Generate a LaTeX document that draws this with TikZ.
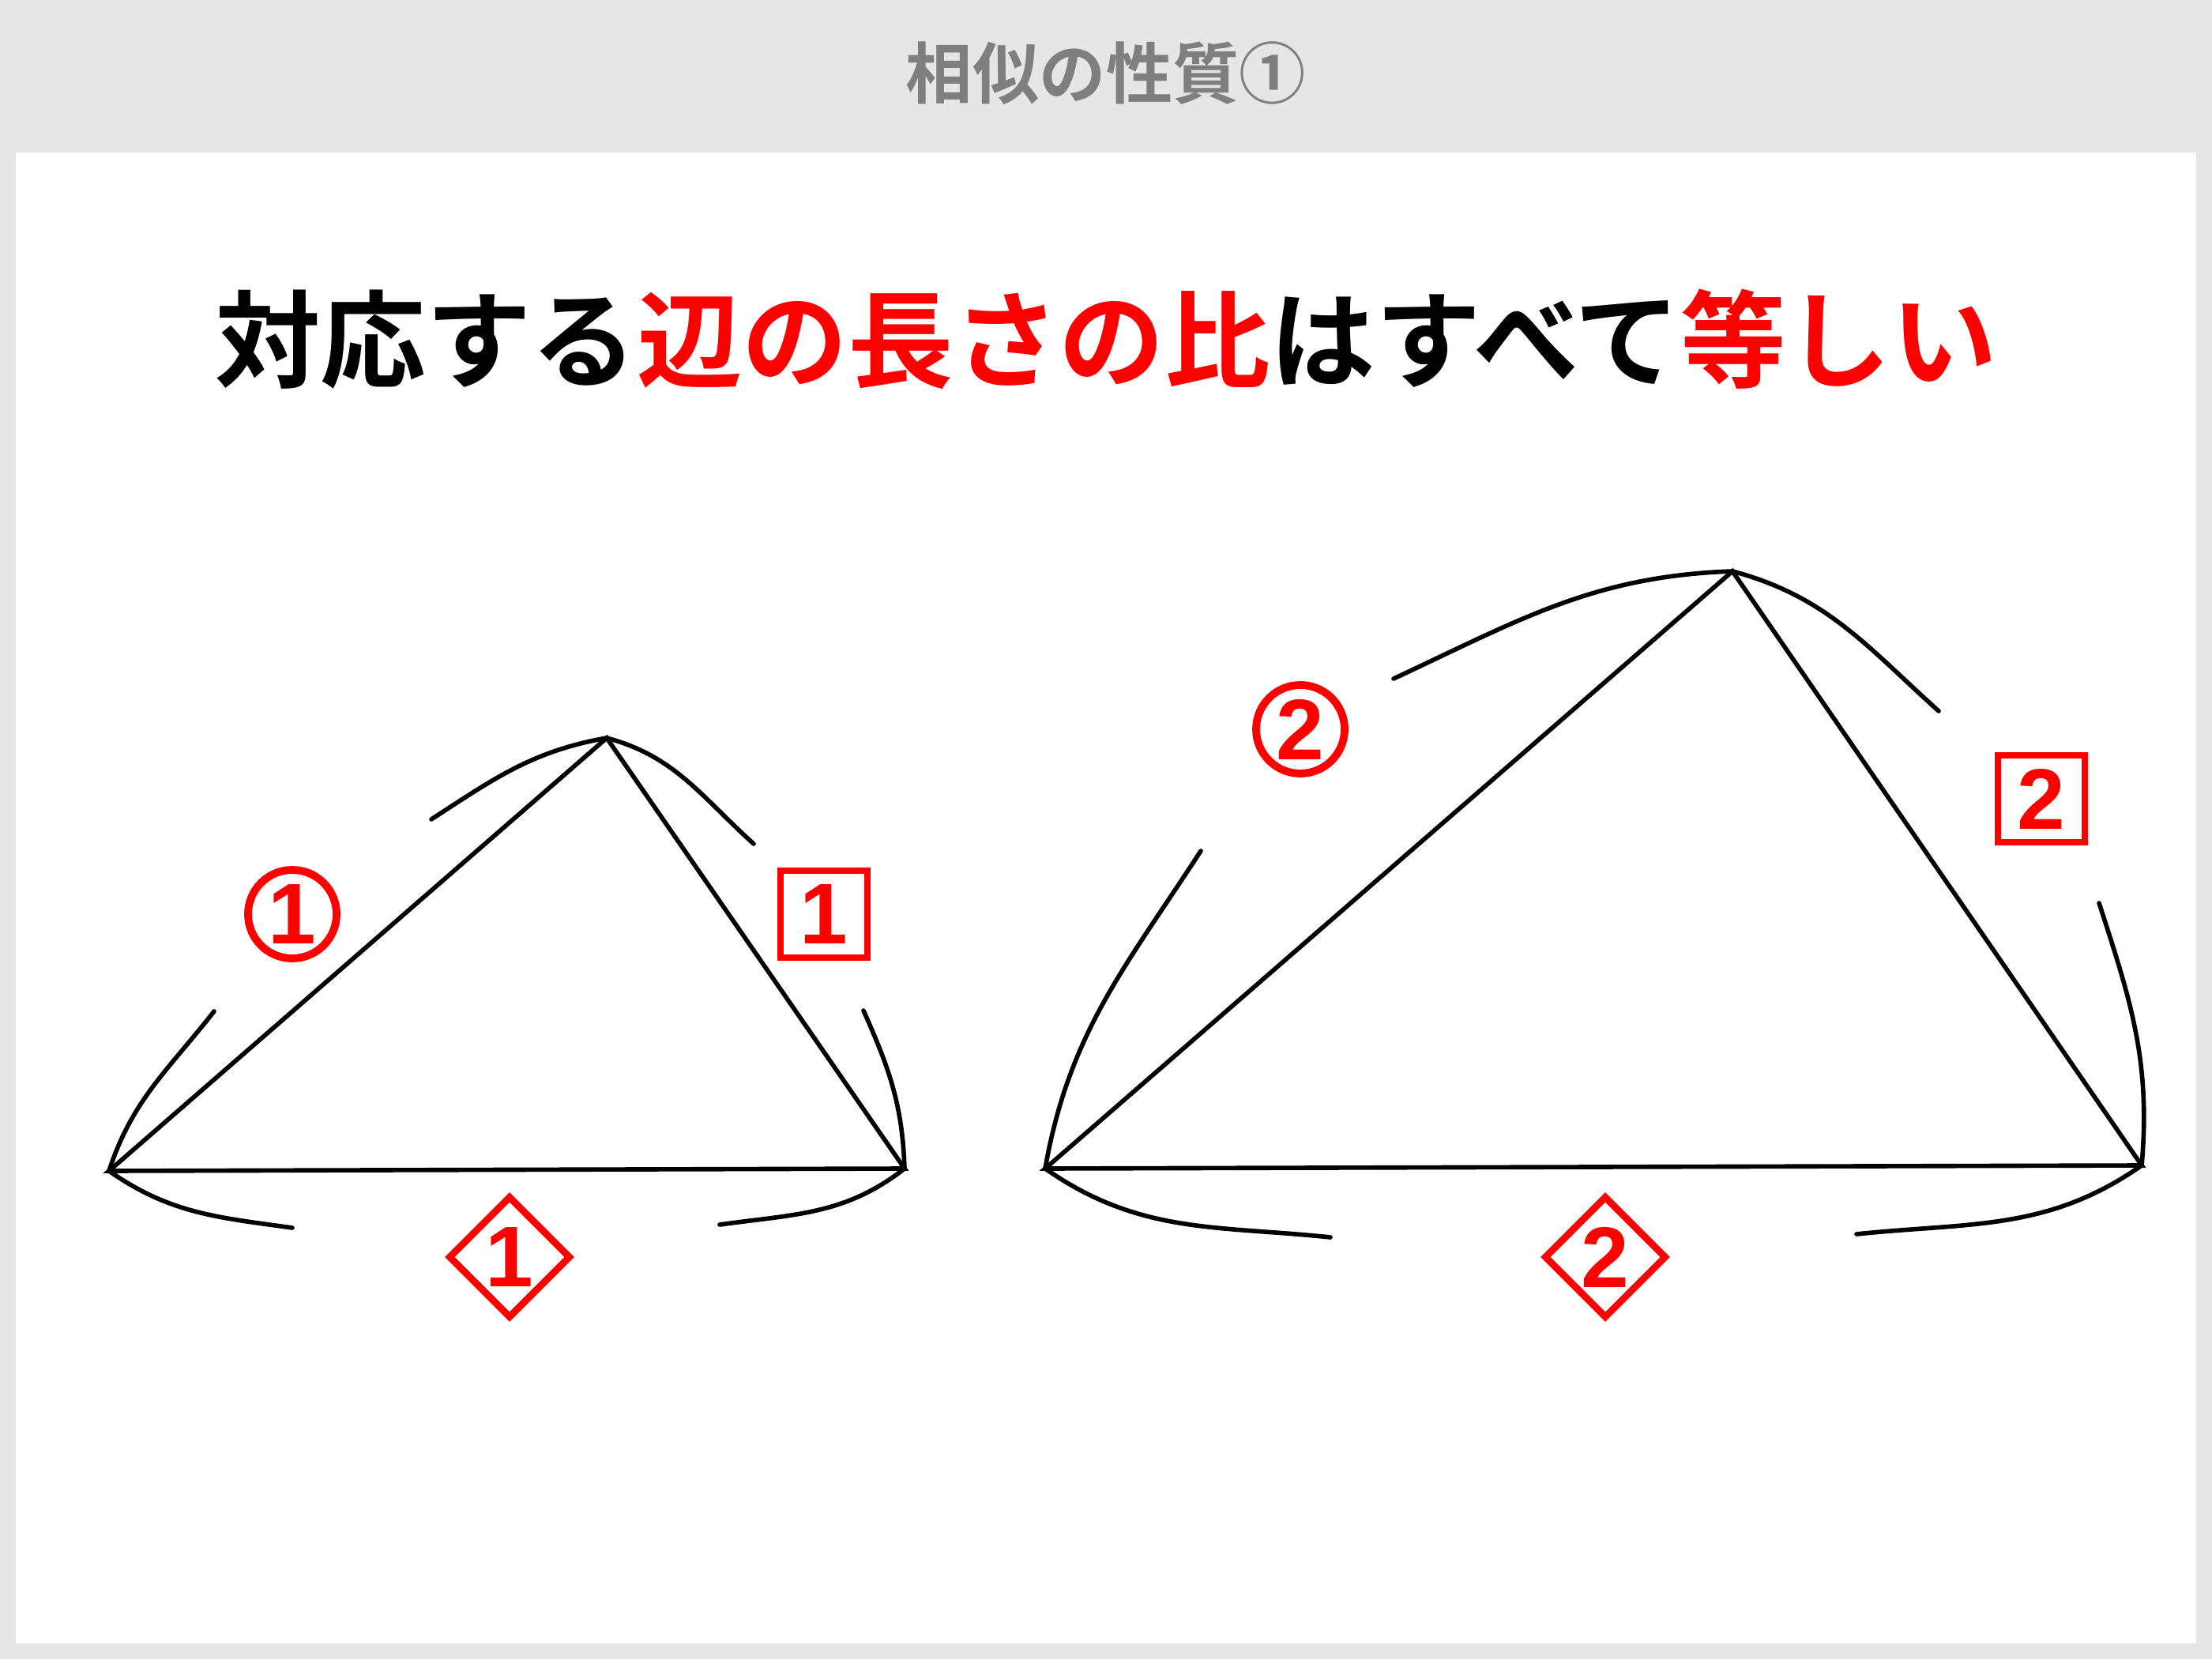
\documentclass[tikz,border=0pt]{standalone}
\usepackage{fontspec}
\setmainfont{Liberation Sans}
\newfontfamily\cjk{Noto Sans CJK JP}[BoldFont=* Bold]
\usetikzlibrary{shapes.geometric}
\definecolor{bannergray}{HTML}{E6E6E6}
\definecolor{titlegray}{HTML}{7F7F7F}
\begin{document}
\begin{tikzpicture}[
            edge/.style={line width=1.6pt,line cap=round},
            lab/.style={draw=red,text=red,line width=2.5pt,inner sep=0pt,font=\fontsize{31}{31}\selectfont\bfseries},
            circlab/.style={lab,circle,line width=2.8pt,minimum size=1.12cm},
            boxlab/.style={lab,rectangle,minimum size=1.1cm},
            dialab/.style={lab,diamond,minimum size=1.55cm},
        ]
    \fill[bannergray] (0,0) rectangle (28,21);
    \fill[white] (0.2,0.2) rectangle (27.8,19.07);
    \node[text=titlegray,font=\cjk\bfseries\fontsize{24}{24}\selectfont] (title) at (14,20.07) {相似の性質①};
    \node[font=\cjk\bfseries\fontsize{38}{40}\selectfont] (head) at (14,16.71)
        {対応する\textcolor{red}{辺の長さの比}はすべて\textcolor{red}{等しい}};

    % small triangle
    \coordinate (a1) at (1.38,6.18);
    \coordinate (b1) at (7.68,11.66);
    \coordinate (c1) at (11.45,6.21);
    \draw[edge] (a1) -- (b1) -- (c1) -- cycle;
    \draw[edge] (a1) to[out=72,in=232] (2.71,8.20);
    \draw[edge] (5.46,10.63) to[out=33,in=190] (b1);
    \draw[edge] (b1) to[out=-15,in=138] (9.54,10.32);
    \draw[edge] (10.93,8.21) to[out=-66,in=92] (c1);
    \draw[edge] (a1) to[out=-35,in=172] (3.70,5.46);
    \draw[edge] (9.11,5.50) to[out=8,in=218] (c1);
    \node[circlab] (ab1) at (3.70,9.43) {1};
    \node[boxlab] (bc1) at (10.43,9.43) {1};
    \node[dialab] (ca1) at (6.45,5.09) {1};

    % large triangle
    \coordinate (a2) at (13.23,6.21);
    \coordinate (b2) at (21.93,13.77);
    \coordinate (c2) at (27.11,6.25);
    \draw[edge] (a2) -- (b2) -- (c2) -- cycle;
    \draw[edge] (a2) to[out=80,in=237] (15.20,10.23);
    \draw[edge] (17.64,12.41) to[out=25,in=182] (b2);
    \draw[edge] (b2) to[out=-15,in=138] (24.54,12.00);
    \draw[edge] (26.57,9.57) to[out=-72,in=85] (c2);
    \draw[edge] (a2) to[out=-35,in=174] (16.84,5.34);
    \draw[edge] (23.50,5.38) to[out=6,in=215] (c2);
    \node[circlab] (ab2) at (16.46,11.77) {2};
    \node[boxlab] (bc2) at (25.84,10.89) {2};
    \node[dialab] (ca2) at (20.32,5.09) {2};
\end{tikzpicture}
\end{document}
